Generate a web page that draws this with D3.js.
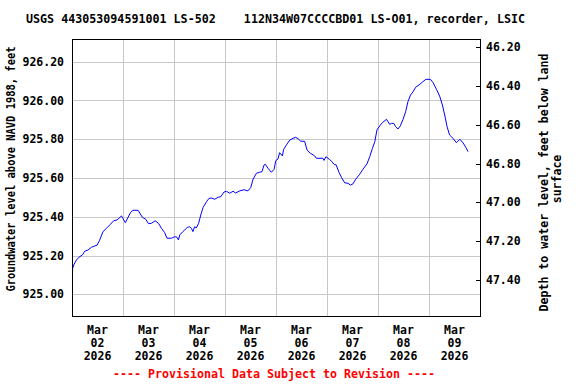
<!DOCTYPE html>
<html>
<head>
<meta charset="utf-8">
<script src="https://cdn.jsdelivr.net/npm/d3@7"></script>
<style>
  body { margin: 0; background: #fff; }
  text { font-family: "DejaVu Sans Mono", monospace; font-weight: bold; }
</style>
</head>
<body>
<svg id="chart" width="576" height="384"></svg>
<script>
// hours after 2026-03-02 00:00
const hours = [0.2, 0.8, 2.1, 3.3, 4.9, 6.0, 7.5, 9.1, 10.7, 11.8, 13.0, 14.6, 16.2, 18.1, 19.6, 21.2, 23.3, 24.0, 25.1, 26.4, 27.5, 28.7, 31.1, 33.1, 34.7, 36.0, 37.4, 39.1, 40.7, 42.1, 43.6, 44.7, 46.9, 48.3, 49.4, 50.1, 50.7, 52.2, 54.3, 55.4, 56.2, 56.9, 57.7, 58.5, 59.6, 60.6, 61.7, 63.3, 64.5, 65.6, 67.2, 68.7, 70.0, 71.5, 72.7, 74.2, 75.8, 77.0, 78.9, 80.9, 82.8, 84.1, 85.2, 86.8, 88.3, 89.4, 90.4, 91.0, 92.2, 93.8, 95.1, 95.9, 96.9, 97.7, 99.0, 99.6, 100.9, 102.5, 104.0, 105.3, 106.4, 107.5, 109.5, 110.6, 112.1, 114.2, 115.0, 118.1, 118.6, 119.5, 121.1, 122.2, 123.4, 124.3, 125.7, 126.8, 128.3, 129.9, 131.0, 132.2, 133.5, 135.4, 136.9, 138.8, 140.1, 141.4, 142.5, 143.5, 144.8, 146.1, 148.0, 149.5, 150.3, 151.4, 152.3, 153.4, 154.5, 155.8, 157.0, 158.1, 159.3, 160.5, 161.7, 163.3, 164.9, 166.5, 168.7, 169.9, 171.5, 173.0, 174.3, 175.4, 176.5, 177.7, 179.3, 180.9, 182.5, 184.0, 185.3, 186.4];
const levels = [925.130, 925.152, 925.178, 925.192, 925.204, 925.223, 925.229, 925.243, 925.250, 925.254, 925.280, 925.324, 925.341, 925.362, 925.380, 925.384, 925.405, 925.391, 925.370, 925.398, 925.422, 925.434, 925.434, 925.398, 925.388, 925.365, 925.367, 925.380, 925.367, 925.341, 925.319, 925.290, 925.290, 925.298, 925.295, 925.281, 925.307, 925.324, 925.346, 925.349, 925.341, 925.324, 925.349, 925.343, 925.367, 925.410, 925.449, 925.478, 925.496, 925.497, 925.491, 925.501, 925.504, 925.528, 925.532, 925.522, 925.532, 925.523, 925.534, 925.540, 925.534, 925.551, 925.594, 925.625, 925.630, 925.633, 925.668, 925.671, 925.651, 925.630, 925.645, 925.690, 925.698, 925.731, 925.714, 925.748, 925.771, 925.796, 925.805, 925.810, 925.803, 925.791, 925.789, 925.745, 925.729, 925.714, 925.702, 925.702, 925.691, 925.710, 925.697, 925.686, 925.670, 925.668, 925.628, 925.604, 925.576, 925.573, 925.564, 925.570, 925.594, 925.620, 925.645, 925.673, 925.710, 925.754, 925.788, 925.848, 925.869, 925.886, 925.903, 925.877, 925.882, 925.882, 925.865, 925.853, 925.869, 925.903, 925.942, 925.994, 926.028, 926.045, 926.068, 926.080, 926.095, 926.109, 926.109, 926.092, 926.058, 926.023, 925.977, 925.925, 925.865, 925.822, 925.805, 925.782, 925.800, 925.782, 925.759, 925.736];

const levelTicks = [925.0, 925.2, 925.4, 925.6, 925.8, 926.0, 926.2];
const depthTicks = [46.2, 46.4, 46.6, 46.8, 47.0, 47.2, 47.4];
const dayLabels = ["02", "03", "04", "05", "06", "07", "08", "09"];
const landSurface = 972.475;

const title = "USGS 443053094591001 LS-502    112N34W07CCCCBD01 LS-O01, recorder, LSIC";
const leftTitle = "Groundwater level above NAVD 1988, feet";
const rightTitle = ["Depth to water level, feet below land", "surface"];
const footer = "---- Provisional Data Subject to Revision ----";

const svg = d3.select("#chart");
const pL = 72, pR = 480, pT = 39, pB = 316;

const start = new Date(2026, 2, 2);
const end = new Date(2026, 2, 10);
const x = d3.scaleTime().domain([start, end]).range([pL, pR]);
const y = d3.scaleLinear().domain([924.889, 926.317]).range([pB, pT]);
const yDepth = d3.scaleLinear()
  .domain([landSurface - 924.889, landSurface - 926.317])
  .range([pB, pT]);

const data = hours.map((h, i) => ({ t: d3.timeMinute.offset(start, Math.round(h * 60)), v: levels[i] }));

// grid
const days = d3.timeDay.range(d3.timeDay.offset(start, 1), end);
svg.append("g")
  .selectAll("line")
  .data(days)
  .join("line")
  .attr("x1", d => Math.round(x(d)) + 0.5)
  .attr("x2", d => Math.round(x(d)) + 0.5)
  .attr("y1", pT).attr("y2", pB)
  .attr("stroke", "#c8c8c8");

svg.append("g")
  .selectAll("line")
  .data(levelTicks)
  .join("line")
  .attr("x1", pL).attr("x2", pR)
  .attr("y1", d => Math.round(y(d)) + 0.5)
  .attr("y2", d => Math.round(y(d)) + 0.5)
  .attr("stroke", "#c8c8c8");

// the hydrograph
svg.append("path")
  .datum(data)
  .attr("fill", "none")
  .attr("stroke", "#0000ff")
  .attr("stroke-width", 1)
  .attr("d", d3.line().x(d => x(d.t)).y(d => y(d.v)));

// frame
svg.append("rect")
  .attr("x", pL + 0.5).attr("y", pT + 0.5)
  .attr("width", pR - pL).attr("height", pB - pT)
  .attr("fill", "none")
  .attr("stroke", "#000");

// left axis labels
svg.append("g")
  .selectAll("text")
  .data(levelTicks)
  .join("text")
  .attr("x", 64)
  .attr("y", d => y(d))
  .attr("dy", "0.35em")
  .attr("text-anchor", "end")
  .attr("font-size", 11.5)
  .text(d => d3.format(".2f")(d));

// right axis: inward ticks and labels
const rt = svg.append("g");
rt.selectAll("line")
  .data(depthTicks)
  .join("line")
  .attr("x1", pR - 4).attr("x2", pR)
  .attr("y1", d => Math.round(yDepth(d)) + 0.5)
  .attr("y2", d => Math.round(yDepth(d)) + 0.5)
  .attr("stroke", "#000");
rt.selectAll("text")
  .data(depthTicks)
  .join("text")
  .attr("x", 486)
  .attr("y", d => yDepth(d))
  .attr("dy", "0.35em")
  .attr("font-size", 11.5)
  .text(d => d3.format(".2f")(d));

// date labels at noon
const dl = svg.append("g")
  .selectAll("text")
  .data(dayLabels)
  .join("text")
  .attr("text-anchor", "middle")
  .attr("font-size", 11.5)
  .attr("transform", (d, i) => `translate(${x(d3.timeHour.offset(start, i * 24 + 12))},0)`);
dl.append("tspan").attr("x", 0).attr("y", 334).text("Mar");
dl.append("tspan").attr("x", 0).attr("y", 347).text(d => d);
dl.append("tspan").attr("x", 0).attr("y", 360).text("2026");

// titles
svg.append("text")
  .attr("x", 275.5).attr("y", 23)
  .attr("text-anchor", "middle")
  .attr("font-size", 11.5)
  .attr("textLength", 499)
  .attr("lengthAdjust", "spacingAndGlyphs")
  .style("white-space", "pre")
  .text(title);

svg.append("text")
  .attr("transform", "translate(11,169) rotate(-90)")
  .attr("text-anchor", "middle")
  .attr("dy", "0.35em")
  .attr("font-size", 11.5)
  .attr("textLength", 245)
  .attr("lengthAdjust", "spacingAndGlyphs")
  .text(leftTitle);

svg.append("text")
  .attr("transform", "translate(544,182.5) rotate(-90)")
  .attr("text-anchor", "middle")
  .attr("dy", "0.35em")
  .attr("font-size", 11.5)
  .attr("textLength", 258)
  .attr("lengthAdjust", "spacingAndGlyphs")
  .text(rightTitle[0]);

svg.append("text")
  .attr("transform", "translate(556.5,179) rotate(-90)")
  .attr("text-anchor", "middle")
  .attr("dy", "0.35em")
  .attr("font-size", 11.5)
  .text(rightTitle[1]);

svg.append("text")
  .attr("x", 274).attr("y", 378)
  .attr("text-anchor", "middle")
  .attr("font-size", 11.5)
  .attr("fill", "#ff0000")
  .attr("textLength", 322)
  .attr("lengthAdjust", "spacingAndGlyphs")
  .style("white-space", "pre")
  .text(footer);
</script>
</body>
</html>
